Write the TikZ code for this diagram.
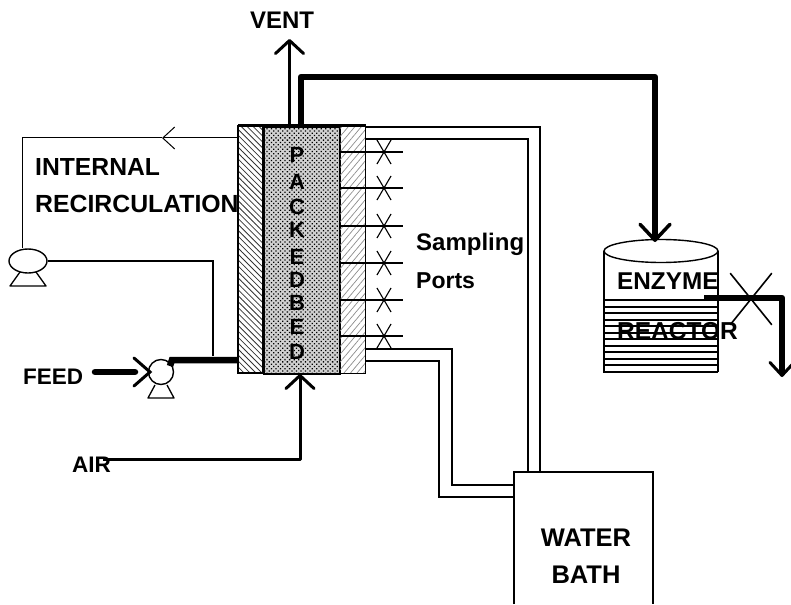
\documentclass[tikz,border=0pt]{standalone}
\usepackage{fontspec}
\setmainfont{Liberation Sans}
\usetikzlibrary{arrows.meta,patterns.meta,shapes.misc,shapes.geometric,calc}
\tikzset{
  x=1pt,y=-1pt,
  lab/.style={font=\bfseries\fontsize{#1}{#1}\selectfont,inner sep=0pt},
  lab/.default=24,
  thinln/.style={line width=1.1pt},
  medln/.style={line width=3pt},
  fatln/.style={line width=6.5pt},
  wall/.style={draw,line width=2pt,anchor=north west,inner sep=0pt,minimum height=247pt},
  barbA/.style={-{Straight Barb[length=13pt,width=28pt,line width=3pt,round]}},
  barbB/.style={-{Straight Barb[length=16pt,width=30pt,line width=3.5pt,round]}},
  barbC/.style={-{Straight Barb[length=12pt,width=22pt,line width=1pt]}},
  valve/.style={cross out,draw,line width=1.1pt,inner sep=0pt,minimum width=13pt,minimum height=23pt},
  bigvalve/.style={cross out,draw,line width=1.6pt,inner sep=0pt,minimum width=40pt,minimum height=50pt},
  pumpbase/.style={line width=1.3pt,line join=round},
}
\begin{document}
\begin{tikzpicture}
\useasboundingbox (0,0) rectangle (791,604);
% column
\node[wall,minimum width=25pt,pattern={Lines[angle=-45,distance=4.2pt,line width=.8pt]},pattern color=black!80] (jacketL) at (238,126) {};
\node[wall,minimum width=76pt,fill=black!18] (bedbg) at (263,126) {};
\node[wall,minimum width=76pt,pattern={Dots[distance=3.2pt,radius=.9pt,angle=45]},pattern color=black] (bed) at (263,126) {};
\node[wall,minimum width=26pt,line width=1.6pt,pattern={Lines[angle=50,distance=5pt,line width=.7pt]},pattern color=black!45] (jacketR) at (339,126) {};
\draw[line width=3pt] (jacketL.north west) -- (jacketR.north east);
% column letters
\node[lab=22] (p1) at (297,155) {P};
\node[lab=22] (p2) at (297,182) {A};
\node[lab=22] (p3) at (297,207) {C};
\node[lab=22] (p4) at (297,230) {K};
\node[lab=22] (p5) at (297,257) {E};
\node[lab=22] (p6) at (297,280) {D};
\node[lab=22] (p7) at (297,303) {B};
\node[lab=22] (p8) at (297,327) {E};
\node[lab=22] (p9) at (297,352) {D};
% vent
\coordinate (ventTop) at (289.5,126);
\coordinate (ventTip) at (289.5,39);
\draw[medln,barbA] (ventTop) -- (ventTip);
\node[lab=24] (vent) at (282,20) {VENT};
% feed line to reactor
\coordinate (outTop) at (301,126);
\coordinate (outC1) at (301,77);
\coordinate (outC2) at (655,77);
\coordinate (outTip) at (655,242);
\draw[fatln,line join=round,barbB] (outTop) -- (outC1) -- (outC2) -- (outTip);
% reactor
\coordinate (rTL) at (604,251);
\coordinate (rTR) at (718,251);
\coordinate (rBL) at (604,372);
\coordinate (rBR) at (718,372);
\draw[line width=1.4pt] (661,251) ellipse [x radius=57,y radius=11.5];
\draw[line width=1.4pt] (rTL) -- (rBL) (rTR) -- (rBR);
\node[lab=24.3,anchor=west] (enzyme) at (617,281) {ENZYME};
\node[lab=24.5,anchor=west] (reactor) at (617,331) {REACTOR};
\draw[line width=2.2pt] (603,300) -- (718,300) (603,372) -- (718,372) (604,300) -- (604,372);
\foreach \yy in {307,313,320,326,333,339,346,352,359,365}
  \draw[line width=1.6pt] (605,\yy) -- (717,\yy);
% reactor outlet
\coordinate (prodA) at (704,298);
\coordinate (prodC) at (782,298);
\coordinate (prodTip) at (782,377);
\draw[fatln,line join=round,-{Straight Barb[length=13pt,width=24pt,line width=3pt,round]}] (prodA) -- (prodC) -- (prodTip);
\node[bigvalve] (prodValve) at (751,299) {};
% recirculation
\coordinate (recOut) at (238,138);
\coordinate (recTip) at (162,138);
\coordinate (recC) at (22,138);
\node[draw,ellipse,line width=1.4pt,minimum width=38pt,minimum height=24pt,inner sep=0pt] (pumpA) at (28,261) {};
\draw[line width=1pt,barbC] (recOut) -- (recTip);
\draw[line width=1pt] (recTip) -- (recC) -- (pumpA.north -| recC);
\draw[pumpbase] (20,272) -- (10,286) -- (46,286) -- (36,272);
\coordinate (recIn) at (213,261);
\coordinate (recEnd) at (213,356);
\draw[line width=1.1pt] (pumpA.east) -- (recIn) -- (recEnd);
\node[lab=24.7,anchor=west] (internal) at (35,167) {INTERNAL};
\node[lab=24.8,anchor=west] (recirc) at (35,204) {RECIRCULATION};
% feed
\node[draw,circle,line width=1.4pt,minimum size=25pt,inner sep=0pt] (pumpB) at (161,372) {};
\coordinate (feedStart) at (95,372);
\draw[fatln,line cap=round] (feedStart) -- (135,372);
\draw[line width=3pt,line cap=round] (134,358) -- (150,372) -- (134,386);
\draw[pumpbase] (155,385) -- (148,398) -- (174,398) -- (167,385);
\coordinate (feedC) at (172,360);
\coordinate (feedEnd) at (238,360);
\draw[fatln] (170,366) -- (feedC) -- (feedEnd);
\node[lab=22.5,anchor=west] (feed) at (23,377) {FEED};
% air
\coordinate (airStart) at (103,459);
\coordinate (airC) at (300,459);
\coordinate (airTip) at (300,374);
\draw[medln,line join=round,barbA] (airStart) -- (airC) -- (airTip);
\node[lab=22.5,anchor=west] (air) at (72,465) {AIR};
% sampling ports
\foreach \n/\yy in {1/152,2/188,3/226,4/263,5/300,6/336}{
  \coordinate (portS\n) at (339,\yy);
  \coordinate (portE\n) at (403,\yy);
  \draw[line width=1.5pt] (portS\n) -- (portE\n);
  \node[valve] (portV\n) at (384,\yy) {};
}
\node[lab=24,anchor=west] (sampling) at (416,244) {Sampling};
\node[lab=23,anchor=west] (ports) at (416,281) {Ports};
% water bath
\coordinate (bTL) at (514,472);
\coordinate (bTR) at (653,472);
\coordinate (bBL) at (514,604);
\coordinate (bBR) at (653,604);
\draw[line width=1.3pt] (bBL) -- (bTL) -- (bTR) -- (bBR);
\node[lab=25.5] (water) at (586,538) {WATER};
\node[lab=25.5] (bath) at (586,575) {BATH};
% jacket circuit
\draw[thinln] (365,127) -- (540,127) -- (540,472);
\draw[thinln] (365,139) -- (528,139) -- (528,472);
\draw[thinln] (365,349) -- (452,349) -- (452,485) -- (514,485);
\draw[thinln] (365,361) -- (439,361) -- (439,497) -- (514,497);
\end{tikzpicture}
\end{document}
